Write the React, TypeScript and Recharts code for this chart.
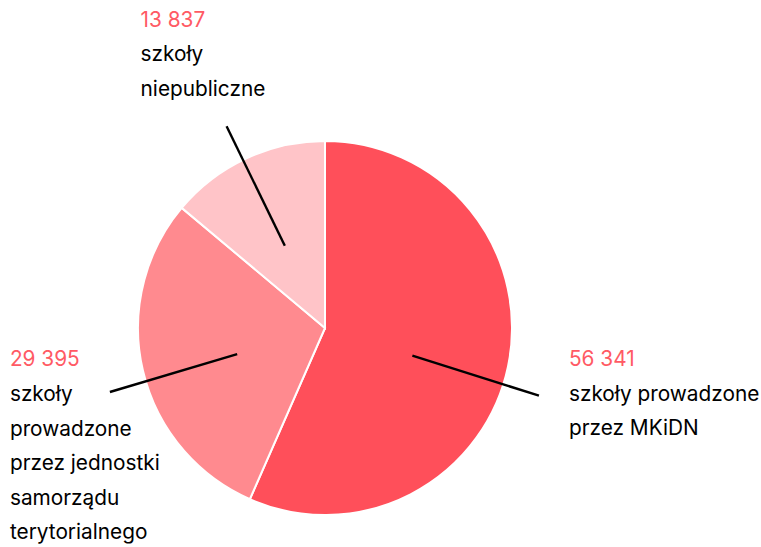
import { PieChart, Pie, Cell } from 'recharts';

const categories = [
  'szkoły prowadzone przez MKiDN',
  'szkoły prowadzone przez jednostki samorządu terytorialnego',
  'szkoły niepubliczne',
];
const values = [56341, 29395, 13837];
const valueLabels = ['56 341', '29 395', '13 837'];
const labelLines = [
  ['szkoły prowadzone', 'przez MKiDN'],
  ['szkoły', 'prowadzone', 'przez jednostki', 'samorządu', 'terytorialnego'],
  ['szkoły', 'niepubliczne'],
];

const colors = ['#ff4f5a', '#ff8a8f', '#ffc4c8'];
const FONT = 'Inter, "Noto Sans", sans-serif';
const FS = 20.8;
const RADIAN = Math.PI / 180;

// leader line tweaks + where text block sits relative to the line end
const labelLayout = [
  { nudge: -5.7, dx: 30, dy: -37 },
  { nudge: 3.4, dx: -100, dy: -33 },
  { nudge: 1, dx: -86, dy: -107 },
];

const data = categories.map((name, i) => ({ name, value: values[i] }));

const renderLabel = (props: any) => {
  const { cx, cy, midAngle, outerRadius, index } = props;
  const lay = labelLayout[index];
  const ang = (midAngle + lay.nudge) * RADIAN;
  const r0 = outerRadius * 0.49;
  const r1 = outerRadius * 1.2;
  const x0 = cx + r0 * Math.cos(ang);
  const y0 = cy - r0 * Math.sin(ang);
  const x1 = cx + r1 * Math.cos(ang);
  const y1 = cy - r1 * Math.sin(ang);
  const tx = x1 + lay.dx;
  const ty = y1 + lay.dy;
  return (
    <g key={`lbl-${index}`}>
      <line x1={x0} y1={y0} x2={x1} y2={y1} stroke="#000" strokeWidth={2.4} />
      <text x={tx} y={ty} fill="#ff5a64" fontSize={FS} fontFamily={FONT} dominantBaseline="central">
        {valueLabels[index]}
      </text>
      {labelLines[index].map((t, j) => (
        <text
          key={j}
          x={tx}
          y={ty + 34.6 * (j + 1)}
          fill="#000"
          fontSize={FS}
          fontFamily={FONT}
          dominantBaseline="central"
        >
          {t}
        </text>
      ))}
    </g>
  );
};

export default function App() {
  return (
    <div style={{ position: 'absolute', left: 0, top: 0, width: 761, height: 547, background: '#fff' }}>
      <PieChart width={761} height={547} margin={{ top: 0, right: 0, bottom: 0, left: 0 }}>
        <Pie
          data={data}
          dataKey="value"
          nameKey="name"
          cx={325}
          cy={328}
          outerRadius={187}
          startAngle={90}
          endAngle={-270}
          stroke="#fff"
          strokeWidth={2}
          label={renderLabel}
          labelLine={false}
          isAnimationActive={false}
        >
          {data.map((d, i) => (
            <Cell key={d.name} fill={colors[i]} />
          ))}
        </Pie>
      </PieChart>
    </div>
  );
}
